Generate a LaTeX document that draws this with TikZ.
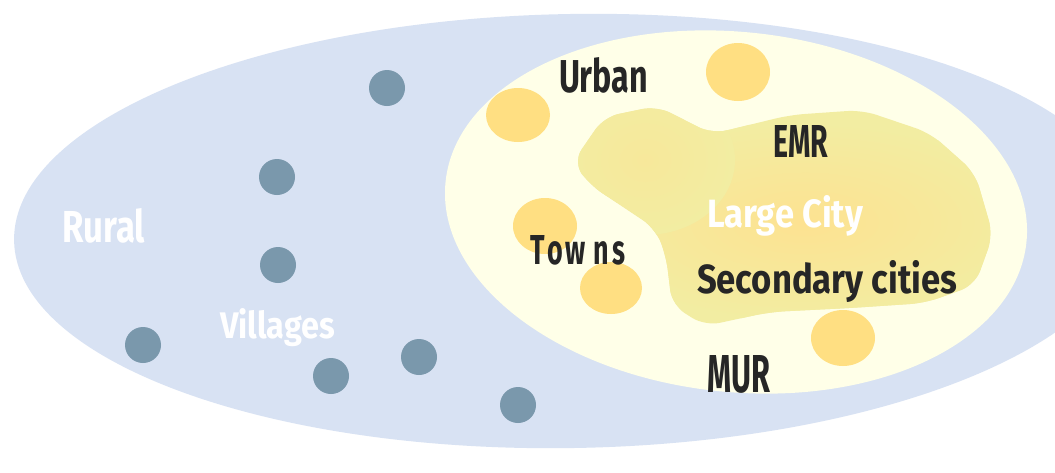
\documentclass[tikz,border=0pt]{standalone}
\usepackage{fontspec}
\newfontfamily\labfont{Fira Sans}
\definecolor{ruralcol}{RGB}{216,226,243}
\definecolor{urbancol}{RGB}{255,255,232}
\definecolor{emrcol}{RGB}{242,237,162}
\definecolor{lcorange}{RGB}{253,226,145}
\definecolor{towncol}{RGB}{255,223,130}
\definecolor{villcol}{RGB}{122,152,172}
\definecolor{labdark}{RGB}{38,38,38}
\begin{document}
\begin{tikzpicture}[x=1pt,y=-1pt,
  lab/.style={anchor=base west, inner sep=0pt, outer sep=0pt, text=labdark, font=\labfont\bfseries},
  wlab/.style={anchor=base west, inner sep=0pt, outer sep=0pt, text=white, font=\labfont\bfseries},
  village/.style={circle, fill=villcol, inner sep=0pt, minimum size=36pt},
  town/.style={fill=towncol}]
\useasboundingbox (0,0) rectangle (1055,472);
\clip (0,0) rectangle (1055,472);
\fill[white] (0,0) rectangle (1055,472);
% rural region
\fill[ruralcol, rotate around={1:(572,231)}] (572,231) ellipse [x radius=558, y radius=217];
% urban region
\fill[urbancol, rotate around={-6:(736,212)}] (736,212) ellipse [x radius=292, y radius=180];
% EMR blob
\path[save path=\blobp, rounded corners=15pt] (573,162) -- (604,117) -- (657,106) -- (712,134)
  -- (790,115) -- (862,110) -- (930,133) -- (975,173) -- (993,235) -- (975,285) -- (925,303)
  -- (850,308) -- (770,312) -- (705,326) -- (672,305) -- (666,255) -- (655,228) -- (625,208)
  -- (590,185) -- cycle;
\fill[emrcol, use path=\blobp];
\begin{scope}
\clip[use path=\blobp];
\shade[inner color=lcorange, outer color=emrcol] (805,222) ellipse [x radius=230, y radius=100];
\shade[inner color=lcorange!45!emrcol, outer color=emrcol] (645,160) ellipse [x radius=90, y radius=75];
\end{scope}
% towns
\fill[town] (518,115) ellipse [x radius=32, y radius=27];
\fill[town] (738,72) ellipse [x radius=32, y radius=29];
\fill[town] (545,226) ellipse [x radius=32, y radius=28];
\fill[town] (611,288) ellipse [x radius=31, y radius=26];
\fill[town] (843,338) ellipse [x radius=32, y radius=28];
% villages
\node[village] (v1) at (387,88) {};
\node[village] (v2) at (277,177) {};
\node[village] (v3) at (278,265) {};
\node[village] (v4) at (143,345) {};
\node[village] (v5) at (331,376) {};
\node[village] (v6) at (419,357) {};
\node[village] (v7) at (518,405) {};
% labels
\node[wlab] (rural) at (62,242) {\resizebox{83pt}{34pt}{Rural}};
\node[wlab] (villages) at (220,338) {\resizebox{115pt}{30pt}{Villages}};
\node[lab] (urban) at (559,92) {\resizebox{89pt}{35pt}{Urban}};
\node[lab] (emr) at (773,157) {\resizebox{55pt}{32pt}{EMR}};
\node[wlab] (large) at (707,227) {\resizebox{156pt}{32pt}{Large City}};
\node[lab] (towns) at (530,264) {\resizebox{95pt}{29pt}{T\kern1pt o\kern1pt w\kern3pt n\kern1pt s}};
\node[lab] (secondary) at (697,293) {\resizebox{260pt}{33pt}{Secondary cities}};
\node[lab] (mur) at (707,392) {\resizebox{63pt}{37pt}{MUR}};
\end{tikzpicture}
\end{document}
